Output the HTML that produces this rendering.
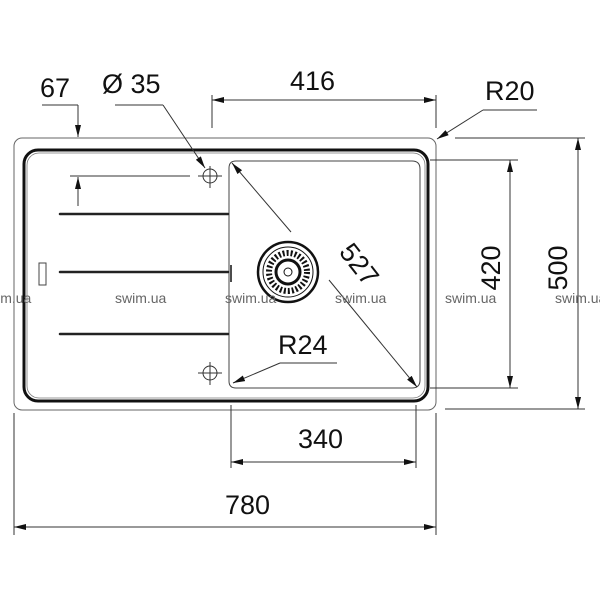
<!DOCTYPE html>
<html><head><style>body{margin:0;background:#fff}svg{display:block}</style></head><body>
<svg width="600" height="600" viewBox="0 0 600 600" xmlns="http://www.w3.org/2000/svg" font-family="Liberation Sans, sans-serif">
<defs>
<marker id="a" viewBox="0 0 12 6" refX="12" refY="3" markerWidth="12" markerHeight="6" markerUnits="userSpaceOnUse" orient="auto-start-reverse"><path d="M0,0L12,3L0,6z" fill="#111"/></marker>
</defs>
<g fill="none" stroke="#666" stroke-width="1">
<rect x="14" y="138" width="422" height="272" rx="8"/>
</g>
<rect x="24" y="150" width="404" height="251" rx="14" fill="none" stroke="#111" stroke-width="3"/>
<rect x="27" y="153" width="398" height="245" rx="12" fill="none" stroke="#777" stroke-width="0.8"/>
<path d="M236,161 H412 Q420,161 420,169 V380 Q420,388 412,388 H236 Q229,388 229,381 V168 Q229,161 236,161Z" fill="none" stroke="#444" stroke-width="1"/>
<g stroke="#222" stroke-width="2.5" stroke-linecap="round">
<line x1="60" y1="214" x2="228" y2="214"/><line x1="60" y1="272" x2="228" y2="272"/><line x1="60" y1="334" x2="228" y2="334"/>
</g>
<line x1="231" y1="265" x2="231" y2="282" stroke="#111" stroke-width="1.5"/>
<rect x="39" y="263" width="7" height="22" fill="none" stroke="#444"/>
<g fill="none" stroke="#333" stroke-width="1">
<circle cx="210" cy="176" r="7"/><line x1="198" y1="176" x2="222" y2="176"/><line x1="210" y1="166" x2="210" y2="188"/>
<circle cx="210" cy="373" r="7"/><line x1="198" y1="373" x2="222" y2="373"/><line x1="210" y1="362" x2="210" y2="385"/>
</g>
<g fill="none" stroke="#111">
<circle cx="288" cy="272" r="30" stroke-width="2.5"/>
<circle cx="288" cy="272" r="25" stroke-width="1"/>
<circle cx="288" cy="272" r="19" stroke-width="6" stroke-dasharray="2 2"/>
<circle cx="288" cy="272" r="12" stroke-width="3"/>
<circle cx="288" cy="272" r="4" stroke-width="1"/>
</g>
<g stroke="#333" stroke-width="1" fill="none">
<line x1="70" y1="176" x2="190" y2="176"/>
<line x1="42" y1="105" x2="78" y2="105"/><line x1="78" y1="105" x2="78" y2="137" marker-end="url(#a)"/>
<line x1="78" y1="206" x2="78" y2="177" marker-end="url(#a)"/>
<line x1="115" y1="105" x2="163" y2="105"/>
<line x1="163" y1="105" x2="205" y2="168" marker-end="url(#a)"/>
<line x1="212" y1="95" x2="212" y2="128"/><line x1="436" y1="95" x2="436" y2="128"/>
<line x1="212" y1="100" x2="436" y2="100" marker-start="url(#a)" marker-end="url(#a)"/>
<line x1="483" y1="110" x2="537" y2="110"/><line x1="483" y1="110" x2="437" y2="139" marker-end="url(#a)"/>
<line x1="430" y1="160" x2="518" y2="160"/><line x1="430" y1="388" x2="518" y2="388"/>
<line x1="510" y1="160" x2="510" y2="388" marker-start="url(#a)" marker-end="url(#a)"/>
<line x1="455" y1="138" x2="585" y2="138"/><line x1="445" y1="409" x2="585" y2="409"/>
<line x1="578" y1="138" x2="578" y2="409" marker-start="url(#a)" marker-end="url(#a)"/>
<line x1="231" y1="405" x2="231" y2="468"/><line x1="416" y1="405" x2="416" y2="468"/>
<line x1="231" y1="462" x2="416" y2="462" marker-start="url(#a)" marker-end="url(#a)"/>
<line x1="14" y1="413" x2="14" y2="535"/><line x1="436" y1="413" x2="436" y2="535"/>
<line x1="14" y1="527" x2="436" y2="527" marker-start="url(#a)" marker-end="url(#a)"/>
<line x1="291" y1="232" x2="232" y2="163" marker-end="url(#a)"/>
<line x1="329" y1="280" x2="417" y2="387" marker-end="url(#a)"/>
<line x1="337" y1="363" x2="280" y2="363"/><line x1="280" y1="363" x2="233" y2="383" marker-end="url(#a)"/>
</g>
<g font-size="27" fill="#111">
<text x="40" y="97">67</text>
<text x="102" y="93">Ø 35</text>
<text x="290" y="90">416</text>
<text x="485" y="100">R20</text>
<text x="278" y="354">R24</text>
<text x="298" y="448">340</text>
<text x="225" y="514">780</text>
<text transform="translate(500,268) rotate(-90)" text-anchor="middle">420</text>
<text transform="translate(567,268) rotate(-90)" text-anchor="middle">500</text>
<text transform="translate(352,270) rotate(52)" text-anchor="middle">527</text>
</g>
<g font-size="14" fill="#666">
<text x="-20" y="303">swim.ua</text><text x="115" y="303">swim.ua</text><text x="225" y="303">swim.ua</text><text x="335" y="303">swim.ua</text><text x="445" y="303">swim.ua</text><text x="555" y="303">swim.ua</text>
</g>
</svg>
</body></html>
